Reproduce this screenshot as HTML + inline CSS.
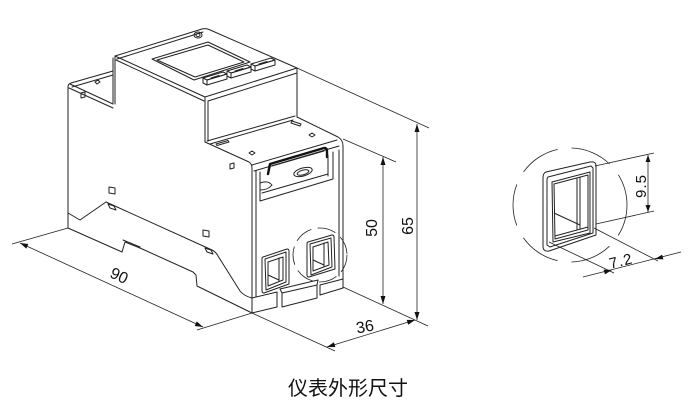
<!DOCTYPE html>
<html><head><meta charset="utf-8"><style>
html,body{margin:0;padding:0;background:#fff;}
svg{display:block;}
text{font-family:"Liberation Sans","Noto Sans CJK SC",sans-serif;fill:#111;}
</style></head><body>
<svg width="699" height="407" viewBox="0 0 699 407" xmlns="http://www.w3.org/2000/svg">
<rect width="699" height="407" fill="#fff"/>
<g fill="none" stroke="#222" stroke-width="1" stroke-linejoin="round" stroke-linecap="round">
<!-- display module top face -->
<path d="M115,56 L202,29 Q206,28 209,29.5 L297,68"/>
<path d="M117,59 L203,32"/>
<path d="M115,56 L205,97"/>
<path d="M116,60 L204,101"/>
<path d="M205,97 L297,68"/>
<path d="M208,101 L297,73"/>
<path d="M115,56 L115,104"/>
<path d="M113,58 L113,103"/>
<path d="M205,97 L205,142"/>
<path d="M208,101 L208,141"/>
<path d="M297,68 L297,117"/>
<!-- window -->
<path d="M152,59 L208,42 L250,62 L194,80 Z"/>
<path d="M157,60 L208,45 L244,62 L195,77 Z"/>
<!-- circle -->
<ellipse cx="198" cy="35" rx="4" ry="3"/>
<ellipse cx="198" cy="35" rx="2" ry="1.5"/>
<!-- buttons -->
<g>
<path d="M203,78 L223,72 L227,74 L207,80 Z"/><path d="M207,80 L227,74 L227,79 L207,85 Z"/><path d="M203,78 L203,83 L207,85"/>
<path d="M211,78 L219,75.5"/>
</g>
<g transform="translate(24,-7)">
<path d="M203,78 L223,72 L227,74 L207,80 Z"/><path d="M207,80 L227,74 L227,79 L207,85 Z"/><path d="M203,78 L203,83 L207,85"/>
<path d="M211,78 L219,75.5"/>
</g>
<g transform="translate(48,-14)">
<path d="M203,78 L223,72 L227,74 L207,80 Z"/><path d="M207,80 L227,74 L227,79 L207,85 Z"/><path d="M203,78 L203,83 L207,85"/>
<path d="M211,78 L219,75.5"/>
</g>
<!-- back section -->
<path d="M68,228 L68,87 Q68,84 71,83 L113,71"/>
<path d="M70,84 L113,104"/>
<path d="M69,88 L113,108"/>
<path d="M72,87 L113,75"/>
<path d="M95,82 L98,80 L100,82 L97,84 Z"/>
<path d="M81,93 L85,92 L85,97 L81,98 Z"/>
<!-- side face details -->
<path d="M109,187 L115,188 L115,194 L109,193 Z"/>
<path d="M108,204 L114,206 L116,210 L110,208 Z"/>
<path d="M203,230 L209,231 L209,237 L203,236 Z"/>
<path d="M205,248 L211,250 L213,254 L207,252 Z"/>
<path d="M230,164 L234,163 L234,168 L230,169 Z"/>
<path d="M68,213 L80,220 L106,202 L212,250 Q216,252 218,256 L240,291 Q244,296 252,298"/>
<path d="M68,228 L122,252 L125,242 L140,248 L193,272 L196,275 L197,286 L252,313"/>
<path d="M123,240 L140,247"/>
<!-- front section top -->
<path d="M207,141 L295,116"/>
<path d="M210,144 L293,120"/>
<path d="M205,142 L249,162 Q252,164 252,168 L252,313"/>
<path d="M256,171 L256,297"/>
<path d="M297,117 L338,137 Q343,140 343,146 L343,288"/>
<path d="M339,150 L339,276"/>
<path d="M252,165 L337,140"/>
<path d="M254,171 L339,146"/>
<path d="M216,144 L228,140.5 L229,142 L217,145.5 Z"/>
<path d="M249,153 L252,151 L255,153 L252,155 Z"/>
<path d="M309,135 L312,133 L315,135 L312,137 Z"/>
<path d="M292,121 L301,124 L300,126 L291,123 Z"/>
<path d="M268,174 L270,164 L324,148 Q327,148 327,151 L327,157" stroke-width="2.4" stroke="#111"/>
<path d="M272,166 L324,151"/>
<!-- opening -->
<path d="M260,172 L260,201 L333,179 L333,152"/>
<path d="M262,193 L328,174"/>
<path d="M328,155 L328,176"/>
<ellipse cx="303" cy="172" rx="9.5" ry="4" transform="rotate(-16 303 172)"/>
<ellipse cx="303" cy="172.5" rx="6" ry="2.3" transform="rotate(-16 303 172.5)"/>
<path d="M260,183 Q268,180 272,185 Q268,190 260,190"/>
<!-- connectors -->
<path d="M263,257 L287,249 Q289,249 289,251 L289,284 L264,293 Q262,293 262,291 L262,259 Q262,257 263,257 Z"/>
<path d="M265,259 L286,252 L286,282 L266,290 Z"/>
<path d="M268,262 L283,257 L283,280 L268,286 Z"/>
<path d="M279,258 L279,281"/>
<path d="M268,275 L279,280"/>
<path d="M308,242 L332,235 Q334,235 334,237 L335,269 L309,277 Q307,277 307,275 L307,244 Q307,242 308,242 Z"/>
<path d="M310,244 L331,238 L332,267 L311,275 Z"/>
<path d="M313,247 L328,242 L329,265 L313,271 Z"/>
<path d="M324,243 L324,266"/>
<path d="M313,260 L324,265"/>
<!-- base front -->
<path d="M252,298 L277,292 L277,307"/>
<path d="M252,313 L277,307"/>
<path d="M280,289 L318,280"/>
<path d="M280,289 L282,293 L317,285 L318,280"/>
<path d="M282,293 L282,307 L317,298 L317,285"/>
<path d="M320,285 L343,279"/>
<path d="M320,285 L320,295 L343,288"/>
<!-- dashed circle -->
<circle cx="320" cy="255" r="27" stroke-width="0.8" stroke-dasharray="18 7"/>
</g>
<!-- dimensions -->
<g fill="none" stroke="#222" stroke-width="0.8">
<path d="M68,228 L12,244"/>
<path d="M252,313 L197,330"/>
<path d="M20,243 L203,327"/>
<path d="M252,313 L335,351"/>
<path d="M343,287 L428,326"/>
<path d="M327,347 L415,320"/>
<path d="M343,139 L396,162"/>
<path d="M297,68 L429,128"/>
<path d="M383,157 L383,304"/>
<path d="M417,124 L417,320"/>
</g>
<g fill="#111" stroke="none">
<path d="M20,243 L26.3,248.6 L28.3,244 Z"/>
<path d="M203,327 L194.7,326 L196.7,321.4 Z"/>
<path d="M327,347 L335.4,347.1 L333.9,342.3 Z"/>
<path d="M415,320 L408.2,324.7 L406.7,319.9 Z"/>
<path d="M383,157 L380.5,165 L385.5,165 Z"/>
<path d="M383,304 L380.5,296 L385.5,296 Z"/>
<path d="M417,124 L414.5,132 L419.5,132 Z"/>
<path d="M417,320 L414.5,312 L419.5,312 Z"/>
</g>
<text x="119" y="281" font-size="16" text-anchor="middle" transform="rotate(25 119 276)">90</text>
<text x="365" y="332" font-size="16" text-anchor="middle" transform="rotate(-10 365 327)">36</text>
<text x="377" y="228" font-size="16" text-anchor="middle" transform="rotate(-90 377 228)">50</text>
<text x="413" y="226" font-size="16" text-anchor="middle" transform="rotate(-90 413 226)">65</text>
<!-- detail view -->
<g fill="none" stroke="#222" stroke-width="1" stroke-linejoin="round">
<path d="M546,172 L590,162 Q596,161 596,166 L596,235 L549,251 Q543,252 543,246 L543,178 Q543,173 546,172 Z"/>
<path d="M548,177 L591,166 L593,168 L593,233 L550,247 L547,245 L547,179 Z"/>
<path d="M552,182 L590,172 L590,233 L553,242 Z"/>
<path d="M554,184 L588,175 L588,230 L555,239 Z"/>
<path d="M577,178 L577,230"/>
<path d="M580,177 L580,229"/>
<path d="M554,213 L580,225"/>
<path d="M555,236 L588,227"/>
</g>
<g fill="none" stroke="#222" stroke-width="0.8">
<circle cx="570" cy="205" r="57" stroke-dasharray="42 14" stroke-dashoffset="10"/>
<path d="M595,166 L654,153"/>
<path d="M596,224 L654,211"/>
<path d="M648,155 L648,212"/>
<path d="M549,242 L614,273"/>
<path d="M594,228 L658,261"/>
<path d="M583,277 L681,252"/>
</g>
<g fill="#111" stroke="none">
<path d="M648,155 L645.5,162 L650.5,162 Z"/>
<path d="M648,212 L645.5,205 L650.5,205 Z"/>
<path d="M612,270 L604.9,274.4 L603.7,269.6 Z"/>
<path d="M655,259 L663.4,259.4 L662.1,254.6 Z"/>
</g>
<text x="641" y="191" font-size="15" text-anchor="middle" letter-spacing="1" transform="rotate(-90 641 186)">9.5</text>
<text x="621" y="266" font-size="15" text-anchor="middle" letter-spacing="1" transform="rotate(-14 621 261)">7.2</text>
<text x="288" y="395" font-size="20" style="font-family:'Noto Sans CJK SC','WenQuanYi Zen Hei',sans-serif">仪表外形尺寸</text>
</svg>
</body></html>
